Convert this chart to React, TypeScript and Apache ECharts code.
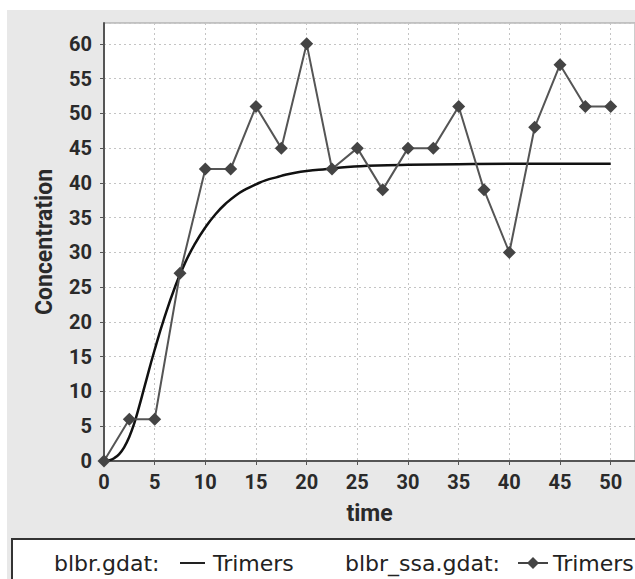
import React, { useEffect, useRef } from "react";
import * as echarts from "echarts";

// SSA (stochastic) trajectory: blbr_ssa.gdat Trimers
const ssaTime = [0, 2.5, 5, 7.5, 10, 12.5, 15, 17.5, 20, 22.5, 25, 27.5, 30, 32.5, 35, 37.5, 40, 42.5, 45, 47.5, 50];
const ssaValues = [0, 6, 6, 27, 42, 42, 51, 45, 60, 42, 45, 39, 45, 45, 51, 39, 30, 48, 57, 51, 51];

// ODE trajectory: blbr.gdat Trimers
const odeTime = [0, 0.5, 1, 1.5, 2, 2.5, 3, 3.5, 4, 5, 6, 7, 8, 9, 10, 11, 12, 13, 14, 15, 16, 17, 18, 19, 20, 22, 24, 26, 28, 30, 35, 40, 45, 50];
const odeValues = [0, 0.1, 0.4, 1.0, 2.0, 3.5, 5.5, 8.0, 10.7, 16.0, 20.8, 25.0, 28.5, 31.3, 33.6, 35.5, 37.0, 38.2, 39.1, 39.8, 40.4, 40.8, 41.2, 41.5, 41.7, 42.0, 42.3, 42.45, 42.55, 42.6, 42.7, 42.75, 42.75, 42.75];

const xLabel = "time";
const yLabel = "Concentration";
const legendFileA = "blbr.gdat:";
const legendFileB = "blbr_ssa.gdat:";
const seriesName = "Trimers";

const FONT = "DejaVu Sans";
const AXIS_FONT = "Roboto";

export default function App() {
  const ref = useRef<HTMLDivElement>(null);

  useEffect(() => {
    if (!ref.current) return;
    const chart = echarts.init(ref.current, undefined, { renderer: "svg" });
    const gridLine = { show: true, lineStyle: { color: "#c4c4c4", width: 1, type: [2, 3] as any } };
    chart.setOption({
      animation: false,
      backgroundColor: "transparent",
      grid: {
        left: 104,
        top: 23,
        right: 0,
        bottom: 118,
        show: true,
        backgroundColor: "#ffffff",
        borderColor: "#9a9a9a",
        borderWidth: 1,
      },
      xAxis: {
        type: "value",
        min: 0,
        max: 52.4,
        interval: 5,
        name: xLabel,
        nameLocation: "middle",
        nameGap: 41,
        nameTextStyle: { fontFamily: AXIS_FONT, fontSize: 23, fontWeight: "bold", color: "#2a2a2a" },
        axisLine: { show: true, lineStyle: { color: "#555", width: 2 } },
        axisTick: { show: true, length: 4, lineStyle: { color: "#555" } },
        axisLabel: { fontFamily: AXIS_FONT, fontSize: 20, fontWeight: "bold", color: "#2a2a2a", margin: 11, showMaxLabel: false },
        splitLine: gridLine,
      },
      yAxis: {
        type: "value",
        min: 0,
        max: 63,
        interval: 5,
        name: yLabel,
        nameLocation: "middle",
        nameGap: 48,
        nameRotate: 90,
        nameTextStyle: { fontFamily: AXIS_FONT, fontSize: 23, fontWeight: "bold", color: "#2a2a2a" },
        axisLine: { show: true, lineStyle: { color: "#555", width: 2 } },
        axisTick: { show: true, length: 4, lineStyle: { color: "#555" } },
        axisLabel: { fontFamily: AXIS_FONT, fontSize: 20, fontWeight: "bold", color: "#2a2a2a", margin: 12, showMaxLabel: false },
        splitLine: gridLine,
      },
      series: [
        {
          name: "ode",
          type: "line",
          data: odeTime.map((t, i) => [t, odeValues[i]]),
          smooth: true,
          showSymbol: false,
          symbol: "none",
          lineStyle: { color: "#111", width: 2.5 },
          z: 3,
        },
        {
          name: "ssa",
          type: "line",
          data: ssaTime.map((t, i) => [t, ssaValues[i]]),
          symbol: "diamond",
          symbolSize: 13,
          itemStyle: { color: "#444" },
          lineStyle: { color: "#555", width: 2 },
          z: 4,
        },
      ],
      graphic: [
        {
          type: "rect",
          shape: { x: 12, y: 539, width: 640, height: 60 },
          style: { fill: "#ffffff", stroke: "#333", lineWidth: 2 },
        },
        {
          type: "text",
          x: 54,
          y: 563,
          style: { text: legendFileA, font: `22px "${FONT}"`, fill: "#222", verticalAlign: "middle" },
        },
        {
          type: "line",
          shape: { x1: 180, y1: 563, x2: 205, y2: 563 },
          style: { stroke: "#222", lineWidth: 2 },
        },
        {
          type: "text",
          x: 213,
          y: 563,
          style: { text: seriesName, font: `22px "${FONT}"`, fill: "#222", verticalAlign: "middle" },
        },
        {
          type: "text",
          x: 345,
          y: 563,
          style: { text: legendFileB, font: `22px "${FONT}"`, fill: "#222", verticalAlign: "middle" },
        },
        {
          type: "line",
          shape: { x1: 518, y1: 563, x2: 548, y2: 563 },
          style: { stroke: "#444", lineWidth: 2 },
        },
        {
          type: "polygon",
          shape: { points: [[533, 557], [539, 563], [533, 569], [527, 563]] },
          style: { fill: "#444" },
        },
        {
          type: "text",
          x: 553,
          y: 563,
          style: { text: seriesName, font: `22px "${FONT}"`, fill: "#222", verticalAlign: "middle" },
        },
      ],
    });
    return () => chart.dispose();
  }, []);

  return (
    <div style={{ position: "fixed", left: 0, top: 0, width: 635, height: 579, background: "#ffffff", overflow: "hidden" }}>
      <div style={{ position: "absolute", left: 7, top: 10, right: 0, bottom: 0, background: "#e8e8e8" }} />
      <div ref={ref} style={{ position: "absolute", left: 0, top: 0, width: 635, height: 579 }} />
    </div>
  );
}
